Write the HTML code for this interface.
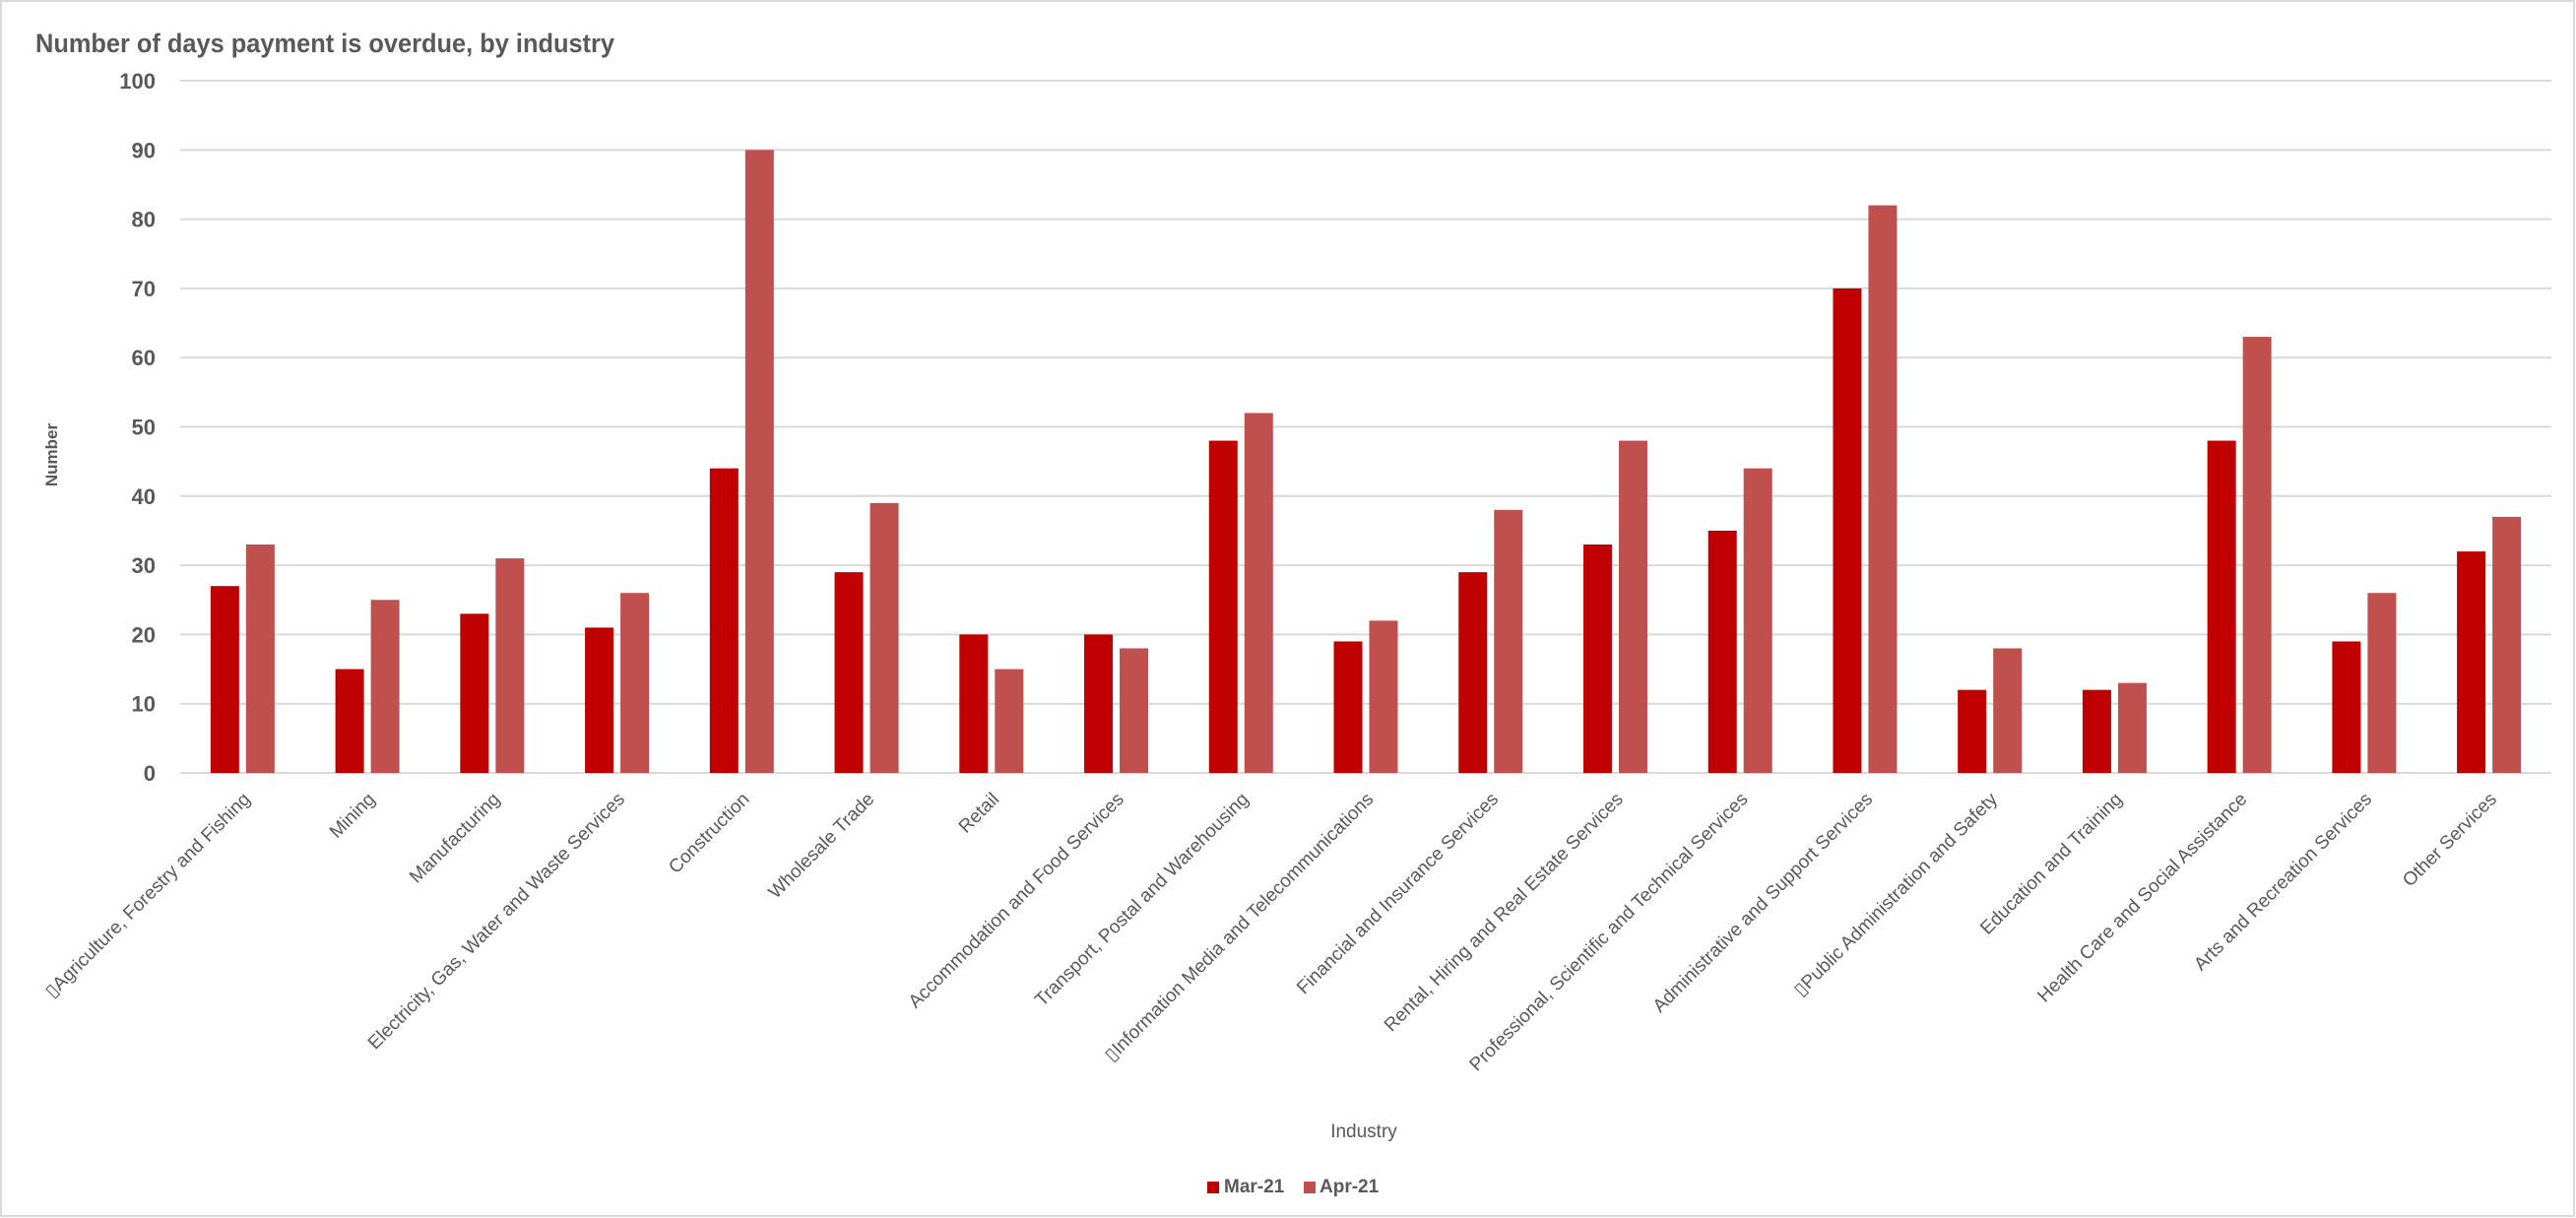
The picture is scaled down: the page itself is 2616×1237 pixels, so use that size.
<!DOCTYPE html>
<html><head><meta charset="utf-8"><style>
html,body{margin:0;padding:0;background:#fff;}
svg{display:block;font-family:"Liberation Sans",sans-serif;}
</style></head><body>
<svg id="chart" width="2616" height="1237" viewBox="0 0 2616 1237">
<rect x="1" y="1" width="2613" height="1234" fill="#fff" stroke="#d9d9d9" stroke-width="2"/>
<text x="36" y="53" font-size="27" font-weight="bold" fill="#595959" textLength="588" lengthAdjust="spacingAndGlyphs">Number of days payment is overdue, by industry</text>
<text transform="translate(58,462) rotate(-90)" text-anchor="middle" font-size="17" font-weight="bold" fill="#595959">Number</text>
<text x="1385" y="1155" text-anchor="middle" font-size="19" fill="#595959">Industry</text>
<g id="grid"></g><g id="bars"></g><g id="xlabels"></g>
<g>
<rect x="1226" y="1200" width="12" height="12" fill="#C00000"/>
<text x="1243" y="1211" font-size="19" font-weight="bold" fill="#595959">Mar-21</text>
<rect x="1324" y="1200" width="12" height="12" fill="#C0504D"/>
<text x="1340" y="1211" font-size="19" font-weight="bold" fill="#595959">Apr-21</text>
</g>
</svg>
<script>
const categories = ["\u25AFAgriculture, Forestry and Fishing","Mining","Manufacturing","Electricity, Gas, Water and Waste Services","Construction","Wholesale Trade","Retail","Accommodation and Food Services","Transport, Postal and Warehousing","\u25AFInformation Media and Telecommunications","Financial and Insurance Services","Rental, Hiring and Real Estate Services","Professional, Scientific and Technical Services","Administrative and Support Services","\u25AFPublic Administration and Safety","Education and Training","Health Care and Social Assistance","Arts and Recreation Services","Other Services"];
const mar21 = [27,15,23,21,44,29,20,20,48,19,29,33,35,70,12,12,48,19,32];
const apr21 = [33,25,31,26,90,39,15,18,52,22,38,48,44,82,18,13,63,26,37];
const yTicks = [0,10,20,30,40,50,60,70,80,90,100];

const NS="http://www.w3.org/2000/svg";
const X0=183, X1=2591, Y0=785, Y1=82, YMAX=100;
const bw=(X1-X0)/categories.length;
const y=v=>Y0-(v/YMAX)*(Y0-Y1);
const xc=i=>X0+bw*(i+0.5);
const grid=document.getElementById('grid'), bars=document.getElementById('bars'), xl=document.getElementById('xlabels');
function mk(tag,attrs){const e=document.createElementNS(NS,tag);for(const k in attrs)e.setAttribute(k,attrs[k]);return e;}
yTicks.forEach(t=>{
  const l=mk('line',{x1:X0,x2:X1,y1:y(t),y2:y(t),stroke:'#d9d9d9','stroke-width':2});
  
  
  grid.appendChild(l);
  const tx=mk('text',{x:158,y:y(t)+8,'text-anchor':'end','font-size':22,'font-weight':'bold',fill:'#595959'});
  tx.textContent=t;
  
  
  grid.appendChild(tx);
});
const BW=29, GAP=7;
categories.forEach((c,i)=>{
  const cx=xc(i);
  const r1=mk('rect',{x:cx-GAP/2-BW,y:y(mar21[i]),width:BW,height:Y0-y(mar21[i]),fill:'#C00000'});
  
  
  bars.appendChild(r1);
  const r2=mk('rect',{x:cx+GAP/2,y:y(apr21[i]),width:BW,height:Y0-y(apr21[i]),fill:'#C0504D'});
  
  
  bars.appendChild(r2);
  const t=mk('text',{transform:'translate('+(cx+4)+',808) rotate(-45)','text-anchor':'end','font-size':19,fill:'#595959',dy:'0.35em'});
  t.textContent=c;
  
  
  xl.appendChild(t);
});
</script>
</body></html>
